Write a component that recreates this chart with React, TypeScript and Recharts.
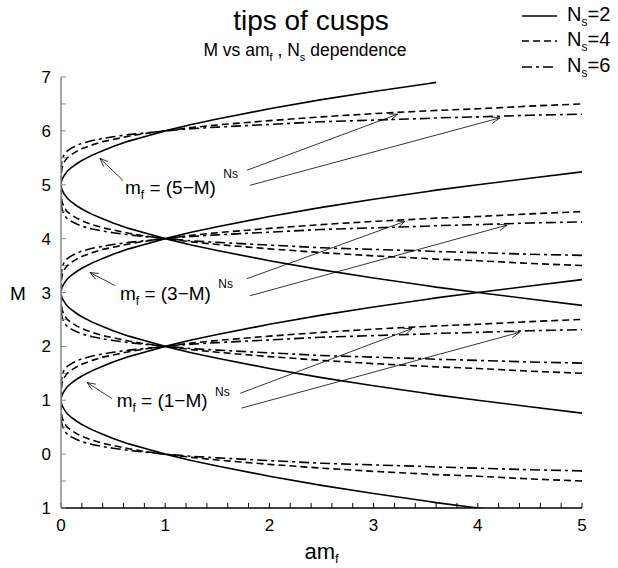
import React from "react";
import { LineChart, Line, XAxis, YAxis, ReferenceLine, ReferenceDot } from "recharts";

const FONT = '"Liberation Sans", Arial, Helvetica, sans-serif';

// amf samples and the distance |M - tip| at those samples
const X_SAMPLES = [0, 0.0001, 0.001, 0.01, 0.03, 0.06, 0.1, 0.15, 0.2, 0.3, 0.4, 0.5, 0.65, 0.8, 1, 1.25, 1.5, 2, 2.5, 3, 3.5, 3.6, 4, 4.5, 5];
const OFFSET_NS2 = [0, 0.01, 0.03, 0.1, 0.17, 0.25, 0.32, 0.39, 0.45, 0.55, 0.63, 0.71, 0.81, 0.89, 1, 1.12, 1.22, 1.41, 1.58, 1.73, 1.87, 1.9, 2, 2.12, 2.24];
const OFFSET_NS4 = [0, 0.1, 0.18, 0.32, 0.42, 0.5, 0.56, 0.62, 0.67, 0.74, 0.8, 0.84, 0.9, 0.95, 1, 1.06, 1.11, 1.19, 1.26, 1.32, 1.37, 1.38, 1.41, 1.46, 1.5];
const OFFSET_NS6 = [0, 0.22, 0.32, 0.46, 0.56, 0.63, 0.68, 0.73, 0.77, 0.82, 0.86, 0.89, 0.93, 0.96, 1, 1.04, 1.07, 1.12, 1.17, 1.2, 1.23, 1.24, 1.26, 1.29, 1.31];
const CUSP_TIPS = [1, 3, 5];
const M_MAX_PLOTTED = 6.9; // the curves in the figure stop at M = 6.9
const NS_LABELS = ["2", "4", "6"];
const NS_DASH = ["", "7 4", "10 4 3 4"];

const X_TICKS = [0, 0.2, 0.4, 0.6, 0.8, 1, 1.2, 1.4, 1.6, 1.8, 2, 2.2, 2.4, 2.6, 2.8, 3, 3.2, 3.4, 3.6, 3.8, 4, 4.2, 4.4, 4.6, 4.8, 5];
const Y_TICKS = [-1, -0.5, 0, 0.5, 1, 1.5, 2, 2.5, 3, 3.5, 4, 4.5, 5, 5.5, 6, 6.5, 7];
const Y_MAJOR = [-1, 0, 1, 2, 3, 4, 5, 6, 7];
const Y_LABELS = ["1", "0", "1", "2", "3", "4", "5", "6", "7"];

// annotations: arrows (from -> to) and the three formula labels
const ARROW_FROM = [[0.595, 5.08], [1.785, 5.27], [1.814, 4.99], [0.518, 3.13], [1.782, 3.255], [1.814, 2.94], [0.489, 1.03], [1.72, 1.13], [1.734, 0.855]];
const ARROW_TO = [[0.374, 5.49], [3.23, 6.31], [4.21, 6.24], [0.278, 3.37], [3.3, 4.32], [4.28, 4.25], [0.25, 1.33], [3.37, 2.33], [4.4, 2.26]];
const FORMULA_TEXT = ["(5−M)", "(3−M)", "(1−M)"];
const FORMULA_POS = [[0.614, 4.836], [0.566, 2.87], [0.534, 0.866]];
const EXPONENT_POS = [[1.558, 5.12], [1.51, 3.09], [1.478, 1.08]];

const OFFSETS = [OFFSET_NS2, OFFSET_NS4, OFFSET_NS6];

// one line per (Ns, tip): lower branch back to the tip, then the upper branch
const cuspSeries = (offsets: number[], tip: number) =>
  [
    ...X_SAMPLES.map((x, i) => ({ x, m: tip - offsets[i] })).reverse(),
    ...X_SAMPLES.slice(1).map((x, i) => ({ x, m: tip + offsets[i + 1] })),
  ].filter((p) => p.m <= M_MAX_PLOTTED + 1e-9);

const Arrow = (props: any) => {
  const { x1, y1, x2, y2 } = props;
  const a = Math.atan2(y2 - y1, x2 - x1);
  const len = 9;
  const spread = 0.38;
  const h1 = `${x2 - len * Math.cos(a - spread)},${y2 - len * Math.sin(a - spread)}`;
  const h2 = `${x2 - len * Math.cos(a + spread)},${y2 - len * Math.sin(a + spread)}`;
  return (
    <g stroke="#000" strokeWidth={0.8} fill="none">
      <line x1={x1} y1={y1} x2={x2} y2={y2} />
      <polyline points={`${h1} ${x2},${y2} ${h2}`} />
    </g>
  );
};

const yTickText = (v: number) => {
  const i = Y_MAJOR.indexOf(v);
  return i >= 0 ? Y_LABELS[i] : "";
};

function NsLegend() {
  return (
    <div style={{ position: "absolute", left: 519, top: 3, fontFamily: FONT, fontSize: 20, color: "#000" }}>
      {NS_LABELS.map((ns, i) => (
        <div key={ns} style={{ display: "flex", alignItems: "center", height: 25.5 }}>
          <svg width={40} height={10} style={{ marginRight: 8 }}>
            <line x1={3} y1={5} x2={38} y2={5} stroke="#000" strokeWidth={1.5} strokeDasharray={NS_DASH[i] || undefined} />
          </svg>
          <span>
            N<sub style={{ fontSize: 12 }}>s</sub>={ns}
          </span>
        </div>
      ))}
    </div>
  );
}

export default function App() {
  return (
    <div style={{ position: "relative", width: 618, height: 568, background: "#fff" }}>
      <style>{`body{margin:0}`}</style>
      <div style={{ position: "absolute", left: 0, width: 622, top: 5, textAlign: "center", fontFamily: FONT, fontSize: 28 }}>
        tips of cusps
      </div>
      <div style={{ position: "absolute", left: 0, width: 610, top: 40, textAlign: "center", fontFamily: FONT, fontSize: 17.5 }}>
        M vs am<sub style={{ fontSize: 11 }}>f</sub> , N<sub style={{ fontSize: 11 }}>s</sub> dependence
      </div>
      <NsLegend />
      <LineChart width={618} height={568} margin={{ top: 77, right: 36, bottom: 0, left: 0 }}>
        <XAxis
          type="number"
          dataKey="x"
          domain={[0, 5]}
          allowDataOverflow
          ticks={X_TICKS}
          interval={0}
          tickFormatter={(v) => (Number.isInteger(v) ? String(v) : "")}
          tickSize={-5}
          tickMargin={16}
          height={60}
          axisLine={{ stroke: "#000", strokeWidth: 1.5 }}
          tickLine={{ stroke: "#000" }}
          tick={{ fill: "#000", fontSize: 17, fontFamily: FONT }}
          label={{
            content: ({ viewBox }: any) => (
              <text x={viewBox.x + viewBox.width / 2} y={viewBox.y + 51} textAnchor="middle" fontFamily={FONT} fontSize={22} fill="#000">
                am<tspan fontSize={13} dy={4}>f</tspan>
              </text>
            ),
          }}
        />
        <XAxis xAxisId="top" orientation="top" type="number" domain={[0, 5]} allowDataOverflow ticks={X_TICKS} interval={0} tick={false} tickSize={-5} height={0} axisLine={{ stroke: "#000", strokeWidth: 1.5 }} tickLine={{ stroke: "#000" }} />
        <YAxis
          type="number"
          domain={[-1, 7]}
          allowDataOverflow
          ticks={Y_TICKS}
          interval={0}
          tickFormatter={yTickText}
          tickSize={-5}
          tickMargin={15}
          width={61}
          axisLine={{ stroke: "#888", strokeWidth: 1.5 }}
          tickLine={{ stroke: "#888" }}
          tick={{ fill: "#000", fontSize: 17, fontFamily: FONT }}
          label={{
            content: ({ viewBox }: any) => (
              <text x={18} y={viewBox.y + viewBox.height / 2 + 7} textAnchor="middle" fontFamily={FONT} fontSize={19} fill="#000">
                M
              </text>
            ),
          }}
        />
        <YAxis yAxisId="right" orientation="right" type="number" domain={[-1, 7]} allowDataOverflow ticks={Y_TICKS} interval={0} tick={false} tickSize={-5} width={0} axisLine={{ stroke: "#000", strokeWidth: 1.5 }} tickLine={{ stroke: "#000" }} />

        {OFFSETS.map((offsets, n) =>
          CUSP_TIPS.map((tip) => (
            <Line
              key={`ns${NS_LABELS[n]}-${tip}`}
              data={cuspSeries(offsets, tip)}
              dataKey="m"
              type="linear"
              stroke="#000"
              strokeWidth={1.6}
              strokeDasharray={NS_DASH[n] || undefined}
              dot={false}
              activeDot={false}
              isAnimationActive={false}
            />
          ))
        )}

        {ARROW_FROM.map((from, i) => (
          <ReferenceLine
            key={`arrow-${i}`}
            segment={[
              { x: from[0], y: from[1] },
              { x: ARROW_TO[i][0], y: ARROW_TO[i][1] },
            ]}
            shape={Arrow}
          />
        ))}
        {FORMULA_POS.map((pos, i) => (
          <ReferenceDot
            key={`formula-${i}`}
            x={pos[0]}
            y={pos[1]}
            r={0}
            shape={(p: any) => (
              <text x={p.cx} y={p.cy} fontFamily={FONT} fontSize={19} fill="#000">
                m<tspan fontSize={12} dy={5}>f</tspan>
                <tspan dy={-5}> = {FORMULA_TEXT[i]}</tspan>
              </text>
            )}
          />
        ))}
        {EXPONENT_POS.map((pos, i) => (
          <ReferenceDot
            key={`exp-${i}`}
            x={pos[0]}
            y={pos[1]}
            r={0}
            shape={(p: any) => (
              <text x={p.cx} y={p.cy} fontFamily={FONT} fontSize={12} fill="#000">
                Ns
              </text>
            )}
          />
        ))}
      </LineChart>
    </div>
  );
}
